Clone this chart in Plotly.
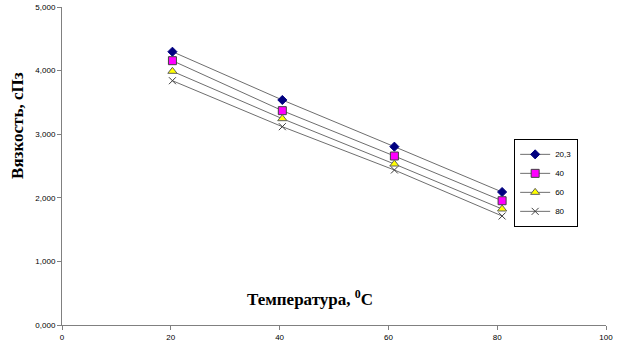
import plotly.graph_objects as go

temps = [20.3, 40.5, 61.1, 80.9]
series_names = ["20,3", "40", "60", "80"]
v_203 = [4.297, 3.538, 2.804, 2.091]
v_40 = [4.156, 3.370, 2.657, 1.954]
v_60 = [3.989, 3.244, 2.531, 1.824]
v_80 = [3.841, 3.118, 2.437, 1.714]
x_ticks = [0, 20, 40, 60, 80, 100]
y_ticks = [0, 1, 2, 3, 4, 5]

line_col = "#6e6e6e"
styles = [
    dict(symbol="diamond", size=7, color="#000080", line=dict(color="#000080", width=1)),
    dict(symbol="square", size=8, color="#ff00ff", line=dict(color="#404040", width=1)),
    dict(symbol="triangle-up", size=8, color="#ffff00", line=dict(color="#606060", width=1)),
    dict(symbol="x-thin", size=7, color="#404040", line=dict(color="#404040", width=1)),
]

fig = go.Figure()
for name, vals, st in zip(series_names, [v_203, v_40, v_60, v_80], styles):
    fig.add_trace(go.Scatter(
        x=temps, y=vals, name=name, mode="lines+markers",
        line=dict(color=line_col, width=1),
        marker=st,
    ))

fig.update_layout(
    width=624, height=351,
    margin=dict(l=62, r=18, t=7, b=26, autoexpand=False),
    paper_bgcolor="white", plot_bgcolor="white",
    separators=", ",
    showlegend=True,
    legend=dict(x=0.89, y=0.447, xanchor="center", yanchor="middle",
                bordercolor="#000000", borderwidth=1, bgcolor="white",
                font=dict(family="Liberation Sans, Arial", size=8, color="#000"),
                itemwidth=30, tracegroupgap=0, itemsizing="trace"),
    font=dict(family="Liberation Sans, Arial", size=8, color="#000"),
)
fig.update_xaxes(range=[0, 100], tickvals=x_ticks, showgrid=False, zeroline=False,
                 showline=True, linecolor="#808080", linewidth=1, automargin=False,
                 ticks="outside", ticklen=4, tickcolor="#808080",
                 tickfont=dict(size=8))
fig.update_yaxes(range=[0, 5], tickvals=y_ticks, tickformat=".3f", showgrid=False, zeroline=False,
                 showline=True, linecolor="#808080", linewidth=1, automargin=False,
                 ticks="outside", ticklen=4, tickcolor="#808080",
                 tickfont=dict(size=8))

fig.add_annotation(text="<b>Вязкость, сПз</b>", textangle=-90, xref="paper", yref="paper",
                   x=-0.081, y=0.629, xanchor="center", yanchor="middle", showarrow=False,
                   font=dict(family="Liberation Serif, Times New Roman", size=17, color="#000"))
fig.add_annotation(text="<b>Температура, <sup>0</sup>С</b>", xref="paper", yref="paper",
                   x=0.456, y=0.085, xanchor="center", yanchor="middle", showarrow=False,
                   font=dict(family="Liberation Serif, Times New Roman", size=17, color="#000"))

fig.write_html("out.html", config={"displayModeBar": False},
               post_script="document.body.style.margin='0';document.body.style.padding='0';")
